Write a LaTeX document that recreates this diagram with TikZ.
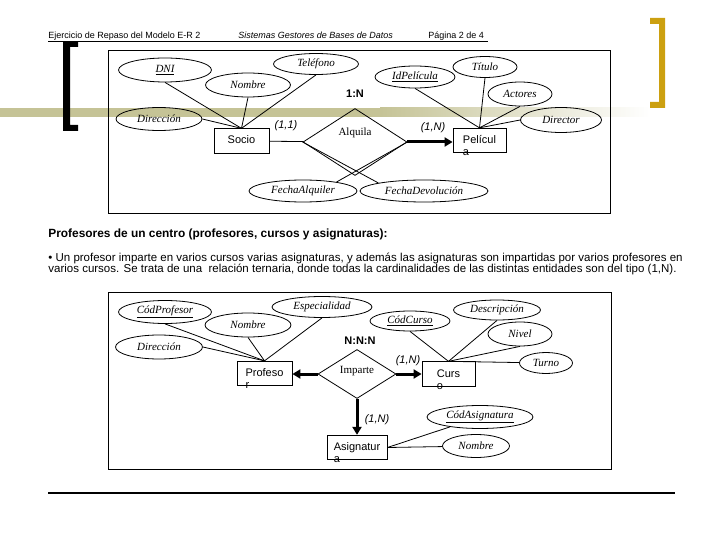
\documentclass[tikz,border=0pt]{standalone}
\usepackage{fontspec}
\setmainfont{Liberation Serif}
\setsansfont{Liberation Sans}
\usetikzlibrary{shapes.geometric,arrows.meta}
\definecolor{olivebar}{RGB}{197,195,150}
\definecolor{goldbar}{RGB}{204,160,16}
\newcommand{\brk}[2]{\smash{\begin{tabular}[t]{@{}l@{}}#1\\#2\end{tabular}}}

\begin{document}
\begin{tikzpicture}[x=1pt,y=-1pt,line width=0.8pt,
   attr/.style={ellipse,draw,inner sep=0pt,font=\fontsize{11}{12}\selectfont\itshape},
   entity/.style={rectangle,draw,inner sep=0pt,text height=8pt,text depth=2pt,font=\sffamily\fontsize{11}{12}\selectfont},
   rel/.style={diamond,draw,inner sep=0pt,font=\fontsize{11}{12}\selectfont},
   card/.style={font=\sffamily\itshape\fontsize{11}{12}\selectfont},
   ratio/.style={font=\sffamily\bfseries\fontsize{11}{12}\selectfont},
   plain/.style={anchor=base west,inner sep=0pt},
   heavy/.style={line width=3pt,-{Triangle[length=8pt,width=9pt]}}]
   \useasboundingbox (0,0) rectangle (720,540);
   % slide decoration
   \fill[olivebar] (0,108) rectangle (380,117);
   \shade[left color=olivebar,right color=white] (380,108) rectangle (650,117);
   \fill (63,42) -- (78,42) -- (78,47) -- (70,47) -- (70,125) -- (78,125) -- (78,131) -- (63,131) -- cycle;
   \fill[goldbar] (665,18) -- (650,18) -- (650,24) -- (659,24) -- (659,102) -- (650,102) -- (650,108) -- (665,108) -- cycle;
   % page header and text
   \node[plain,font=\sffamily\fontsize{9}{10}\selectfont] (hdrl) at (48,39) {Ejercicio de Repaso del Modelo E-R 2};
   \node[plain,font=\sffamily\itshape\fontsize{9}{10}\selectfont] (hdrc) at (238,39) {Sistemas Gestores de Bases de Datos};
   \node[plain,font=\sffamily\fontsize{9}{10}\selectfont] (hdrr) at (428,39) {Página 2 de 4};
   \draw[line width=1pt] (48,41.5) -- (488,41.5);
   \node[plain,font=\sffamily\bfseries\fontsize{11.9}{13}\selectfont] (title) at (48,237) {Profesores de un centro (profesores, cursos y asignaturas):};
   \node[plain,font=\sffamily\fontsize{11.5}{12}\selectfont] (txta) at (48,261) {\textbullet\ Un profesor imparte en varios cursos varias asignaturas, y además las asignaturas son impartidas por varios profesores en};
   \node[plain,font=\sffamily\fontsize{11.5}{12}\selectfont] (txtb) at (48,272) {varios cursos. Se trata de una\ \ relación ternaria, donde todas la cardinalidades de las distintas entidades son del tipo (1,N).};
   \draw[line width=1.2pt] (48,493) -- (675,493);
   % frames
   \draw (108,50) rectangle (610,213);
   \draw (108,292) rectangle (611,469);
   % entities and relations
   \foreach \pos/\name/\w/\txt in {{(241.5,141)/socio/55/Socio}, {(479.5,140.5)/peli/53/\brk{Películ}{a}}, {(264.5,373.5)/prof/55/\brk{Profeso}{r}}, {(448.5,374)/cur/53/\brk{Curs}{o}}, {(357,447.5)/asig/60/\brk{Asignatur}{a}}}
   \node[entity,minimum width=\w pt,minimum height=24.5pt] (\name) at \pos {\txt};
   \node[rel,minimum width=104pt,minimum height=67pt] (alq) at (355,142) {\smash{\raisebox{6pt}{Alquila}}};
   \node[rel,minimum width=78pt,minimum height=49pt] (imp) at (357,374) {\smash{\raisebox{1pt}{Imparte}}};
   % attributes
   \foreach \pos/\name/\w/\h/\txt in {{(165,70)/dni/93/24/\underline{DNI}}, {(159,119)/dir/86/23/Dirección}, {(248,85)/nom/85/24/Nombre}, {(316,64)/tel/85/21/Teléfono}, {(415,77)/idp/80/22/\underline{IdPelícula}}, {(485,67)/tit/64/21/Título}, {(520,94)/act/64/24/Actores}, {(561,120)/dire/81/25/Director}, {(303,191)/falq/108/22/FechaAlquiler}, {(424,191)/fdev/128/22/FechaDevolución}, {(165,312)/codp/93/23/\underline{CódProfesor}}, {(159,347)/dir2/87/24/Dirección}, {(248,325)/nom2/86/24/Nombre}, {(322,307)/esp/100/21/Especialidad}, {(410,321)/codc/80/20/\underline{CódCurso}}, {(497,310)/desc/87/20/Descripción}, {(520,334)/niv/64/24/Nivel}, {(546,363)/tur/53/21/Turno}, {(480,417)/coda/106/23/\underline{CódAsignatura}}, {(476,446)/nom3/67/23/Nombre}}
   \node[attr,minimum width=\w pt,minimum height=\h pt] (\name) at \pos {\txt};
   % cardinalities
   \node[ratio] (rone) at (355,94) {1:N};
   \node[card] (cso) at (286,126) {(1,1)};
   \node[card] (cpe) at (433,128) {(1,N)};
   \node[ratio] (rthree) at (360,341) {N:N:N};
   \node[card] (ccu) at (408,361) {(1,N)};
   \node[card] (cas) at (377,420) {(1,N)};
   \foreach \src/\dst in {dni.south/socio.north, dir.east/socio.north, nom.south/socio.north, tel.south/socio.north, idp.south/peli.north, tit.south/peli.north, act.south/peli.north, dire.west/peli.north, socio/alq, alq.west/fdev.170, alq.east/falq.15, codp.south/prof.north, dir2.east/prof.north, nom2.south/prof.north, esp.south/prof.north, codc.south/cur.north, desc.south/cur.north, niv.south/cur.north, cur.north/tur, asig.east/coda, asig.east/nom3} % plain links
   \draw (\src) -- (\dst);
   \draw[heavy] (alq.east) -- (peli.west |- alq.east);
   \draw[heavy] (imp.west) -- (prof.east |- imp.west);
   \draw[heavy] (imp.east) -- (cur.west |- imp.east);
   \draw[heavy] (imp.south) -- (asig.north);
\end{tikzpicture}
\end{document}
